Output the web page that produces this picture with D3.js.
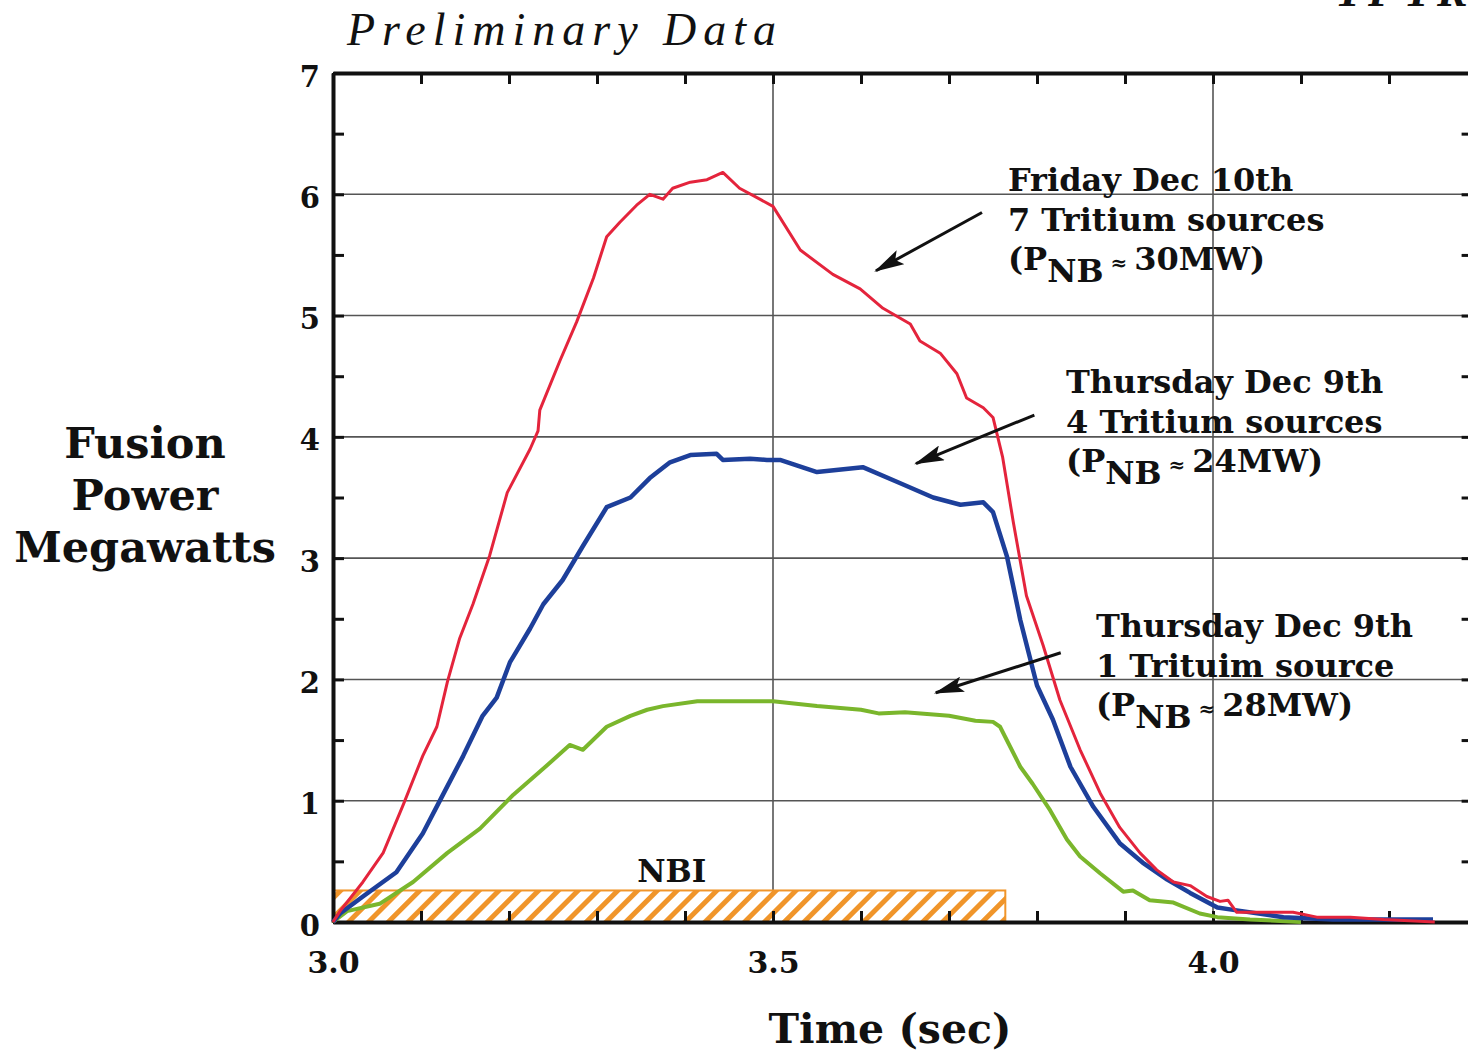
<!DOCTYPE html>
<html>
<head>
<meta charset="utf-8">
<script src="https://cdn.jsdelivr.net/npm/d3@7"></script>
<style>
  body { margin: 0; background: #fff; }
  svg { display: block; }
  .bold { font-family: "DejaVu Serif", "Liberation Serif", serif; font-weight: bold; fill: #111; }
</style>
</head>
<body>
<div id="chart"></div>
<script>
// fusion power traces (time in sec, power in MW)
var fridayDec10 = [
    { t: 3.000, p: 0.00 }, { t: 3.008, p: 0.09 }, { t: 3.034, p: 0.33 }, { t: 3.057, p: 0.57 },
    { t: 3.080, p: 0.97 }, { t: 3.102, p: 1.37 }, { t: 3.118, p: 1.61 }, { t: 3.130, p: 1.98 },
    { t: 3.144, p: 2.34 }, { t: 3.159, p: 2.62 }, { t: 3.178, p: 3.02 }, { t: 3.198, p: 3.54 },
    { t: 3.224, p: 3.90 }, { t: 3.233, p: 4.05 }, { t: 3.235, p: 4.22 }, { t: 3.258, p: 4.63 },
    { t: 3.277, p: 4.95 }, { t: 3.296, p: 5.31 }, { t: 3.311, p: 5.65 }, { t: 3.326, p: 5.77 },
    { t: 3.345, p: 5.91 }, { t: 3.360, p: 6.00 }, { t: 3.375, p: 5.96 }, { t: 3.386, p: 6.05 },
    { t: 3.406, p: 6.10 }, { t: 3.425, p: 6.12 }, { t: 3.443, p: 6.18 }, { t: 3.462, p: 6.05 },
    { t: 3.485, p: 5.96 }, { t: 3.500, p: 5.90 }, { t: 3.531, p: 5.54 }, { t: 3.568, p: 5.34 },
    { t: 3.599, p: 5.22 }, { t: 3.625, p: 5.06 }, { t: 3.656, p: 4.93 }, { t: 3.667, p: 4.79 },
    { t: 3.690, p: 4.69 }, { t: 3.709, p: 4.52 }, { t: 3.720, p: 4.32 }, { t: 3.739, p: 4.24 },
    { t: 3.750, p: 4.16 }, { t: 3.761, p: 3.83 }, { t: 3.773, p: 3.30 }, { t: 3.788, p: 2.69 },
    { t: 3.807, p: 2.28 }, { t: 3.826, p: 1.83 }, { t: 3.849, p: 1.42 }, { t: 3.872, p: 1.06 },
    { t: 3.894, p: 0.78 }, { t: 3.917, p: 0.57 }, { t: 3.936, p: 0.43 }, { t: 3.955, p: 0.33 },
    { t: 3.974, p: 0.30 }, { t: 3.993, p: 0.21 }, { t: 4.008, p: 0.17 }, { t: 4.017, p: 0.18 },
    { t: 4.027, p: 0.08 }, { t: 4.061, p: 0.08 }, { t: 4.091, p: 0.08 }, { t: 4.118, p: 0.04 },
    { t: 4.156, p: 0.04 }, { t: 4.194, p: 0.02 }, { t: 4.252, p: 0.00 }
]

var thursday4src = [
    { t: 3.000, p: 0.00 }, { t: 3.008, p: 0.07 }, { t: 3.034, p: 0.21 }, { t: 3.072, p: 0.41 },
    { t: 3.102, p: 0.73 }, { t: 3.125, p: 1.05 }, { t: 3.148, p: 1.37 }, { t: 3.170, p: 1.70 },
    { t: 3.186, p: 1.85 }, { t: 3.201, p: 2.14 }, { t: 3.224, p: 2.42 }, { t: 3.239, p: 2.62 },
    { t: 3.261, p: 2.82 }, { t: 3.284, p: 3.10 }, { t: 3.311, p: 3.42 }, { t: 3.338, p: 3.50 },
    { t: 3.360, p: 3.66 }, { t: 3.383, p: 3.79 }, { t: 3.406, p: 3.85 }, { t: 3.436, p: 3.86 },
    { t: 3.443, p: 3.81 }, { t: 3.474, p: 3.82 }, { t: 3.493, p: 3.81 }, { t: 3.508, p: 3.81 },
    { t: 3.550, p: 3.71 }, { t: 3.602, p: 3.75 }, { t: 3.644, p: 3.62 }, { t: 3.682, p: 3.50 },
    { t: 3.713, p: 3.44 }, { t: 3.739, p: 3.46 }, { t: 3.750, p: 3.38 }, { t: 3.766, p: 3.01 },
    { t: 3.781, p: 2.49 }, { t: 3.800, p: 1.95 }, { t: 3.818, p: 1.67 }, { t: 3.838, p: 1.28 },
    { t: 3.864, p: 0.95 }, { t: 3.894, p: 0.65 }, { t: 3.920, p: 0.49 }, { t: 3.948, p: 0.35 },
    { t: 3.974, p: 0.24 }, { t: 4.005, p: 0.12 }, { t: 4.023, p: 0.10 }, { t: 4.080, p: 0.04 },
    { t: 4.136, p: 0.02 }, { t: 4.250, p: 0.02 }
]

var thursday1src = [
    { t: 3.000, p: 0.00 }, { t: 3.016, p: 0.09 }, { t: 3.053, p: 0.15 }, { t: 3.091, p: 0.33 },
    { t: 3.130, p: 0.57 }, { t: 3.167, p: 0.77 }, { t: 3.205, p: 1.05 }, { t: 3.243, p: 1.29 },
    { t: 3.269, p: 1.46 }, { t: 3.284, p: 1.42 }, { t: 3.311, p: 1.61 }, { t: 3.338, p: 1.70 },
    { t: 3.357, p: 1.75 }, { t: 3.375, p: 1.78 }, { t: 3.414, p: 1.82 }, { t: 3.451, p: 1.82 },
    { t: 3.500, p: 1.82 }, { t: 3.550, p: 1.78 }, { t: 3.600, p: 1.75 }, { t: 3.620, p: 1.72 },
    { t: 3.650, p: 1.73 }, { t: 3.700, p: 1.70 }, { t: 3.730, p: 1.66 }, { t: 3.750, p: 1.65 },
    { t: 3.758, p: 1.61 }, { t: 3.781, p: 1.28 }, { t: 3.795, p: 1.14 }, { t: 3.815, p: 0.92 },
    { t: 3.834, p: 0.68 }, { t: 3.849, p: 0.54 }, { t: 3.872, p: 0.40 }, { t: 3.898, p: 0.25 },
    { t: 3.909, p: 0.26 }, { t: 3.928, p: 0.18 }, { t: 3.955, p: 0.16 }, { t: 3.985, p: 0.07 },
    { t: 4.005, p: 0.04 }, { t: 4.042, p: 0.02 }, { t: 4.100, p: 0.00 }
]

// neutral beam injection window
var nbi = { start: 3.0, end: 3.764, level: 0.26 }

var xTickLabels = [3.0, 3.5, 4.0]
var yTickLabels = [0, 1, 2, 3, 4, 5, 6, 7]
var xGrid = [3.5, 4.0]
var yGrid = [1, 2, 3, 4, 5, 6]
var yTitle = ["Fusion", "Power", "Megawatts"]

// annotation text + arrow (from -> to) in data units
var notes = [
    { lines: ["Friday Dec 10th", "7 Tritium sources", "30MW)"], t: 3.767, p: 6.03,
      from: [3.7375, 5.85], to: [3.617, 5.37] },
    { lines: ["Thursday Dec 9th", "4 Tritium sources", "24MW)"], t: 3.833, p: 4.36,
      from: [3.797, 4.18], to: [3.6625, 3.78] },
    { lines: ["Thursday Dec 9th", "1 Trituim source", "28MW)"], t: 3.867, p: 2.35,
      from: [3.827, 2.22], to: [3.685, 1.89] }
]

const W = 1468, H = 1052
const margin = { top: 73, left: 333, bottom: 130 }

const x = d3.scaleLinear()
    .domain([3.0, 4.295])
    .range([margin.left, margin.left + 1.295 * 880])
const y = d3.scaleLinear()
    .domain([0, 7])
    .range([H - margin.bottom, margin.top])

var svg = d3.select("#chart")
    .append("svg")
    .attr("width", W)
    .attr("height", H)

// hatch pattern for NBI bar
var defs = svg.append("defs")
var pat = defs.append("pattern")
    .attr("id", "hatch")
    .attr("patternUnits", "userSpaceOnUse")
    .attr("width", 14).attr("height", 14)
    .attr("patternTransform", "rotate(45)")
pat.append("rect").attr("width", 14).attr("height", 14).attr("fill", "#fff")
pat.append("rect").attr("width", 5).attr("height", 14).attr("fill", "#f0952a")

defs.append("marker")
    .attr("id", "head")
    .attr("markerUnits", "userSpaceOnUse")
    .attr("viewBox", "0 0 30 16")
    .attr("refX", 28).attr("refY", 8)
    .attr("markerWidth", 30).attr("markerHeight", 16)
    .attr("orient", "auto")
    .append("path")
    .attr("d", "M0,0 L30,8 L0,16 L6,8 Z")
    .attr("fill", "#111")

// gridlines
svg.append("g").selectAll("line")
    .data(yGrid).enter().append("line")
    .attr("x1", x(3.0)).attr("x2", x(4.295))
    .attr("y1", d => y(d)).attr("y2", d => y(d))
    .attr("stroke", "#555").attr("stroke-width", 1.6)
svg.append("g").selectAll("line")
    .data(xGrid).enter().append("line")
    .attr("x1", d => x(d)).attr("x2", d => x(d))
    .attr("y1", y(0)).attr("y2", y(7))
    .attr("stroke", "#555").attr("stroke-width", 1.6)

// NBI bar
svg.append("rect")
    .attr("x", x(nbi.start))
    .attr("y", y(nbi.level))
    .attr("width", x(nbi.end) - x(nbi.start))
    .attr("height", y(0) - y(nbi.level))
    .attr("fill", "url(#hatch)")
    .attr("stroke", "#f0952a")
    .attr("stroke-width", 2)

svg.append("text")
    .attr("class", "bold")
    .attr("x", x(3.385)).attr("y", y(0.33))
    .attr("text-anchor", "middle")
    .attr("font-size", 31)
    .text("NBI")

// axes (ticks point inward)
var xMinor = d3.range(30, 43).map(d => d / 10)
var yMinor = d3.range(0, 15).map(d => d / 2)

var fmtX = d => xTickLabels.some(v => Math.abs(v - d) < 1e-6) ? d3.format(".1f")(d) : ""
var fmtY = d => yTickLabels.indexOf(d) >= 0 ? d : ""

var gx = svg.append("g")
    .attr("transform", `translate(0,${y(0)})`)
    .call(d3.axisBottom(x).tickValues(xMinor).tickSizeInner(-11).tickSizeOuter(0).tickPadding(30).tickFormat(fmtX))
var gxTop = svg.append("g")
    .attr("transform", `translate(0,${y(7)})`)
    .call(d3.axisTop(x).tickValues(xMinor).tickSizeInner(-11).tickSizeOuter(0).tickFormat(""))
var gy = svg.append("g")
    .attr("transform", `translate(${x(3.0)},0)`)
    .call(d3.axisLeft(y).tickValues(yMinor).tickSizeInner(-11).tickSizeOuter(0).tickPadding(13).tickFormat(fmtY))
var gyRight = svg.append("g")
    .attr("transform", `translate(${x(4.295)},0)`)
    .call(d3.axisRight(y).tickValues(yMinor).tickSizeInner(-11).tickSizeOuter(0).tickFormat(""))

svg.selectAll(".domain").attr("stroke", "#111").attr("stroke-width", 4)
svg.selectAll(".tick line").attr("stroke", "#111").attr("stroke-width", 3)
gx.selectAll("text").attr("class", "bold").attr("font-size", 30)
gy.selectAll("text").attr("class", "bold").attr("font-size", 29).attr("dy", "0.45em")

// traces
const line = d3.line()
    .x(d => x(d.t))
    .y(d => y(d.p))

svg.append("path")
    .datum(thursday1src)
    .attr("fill", "none")
    .attr("stroke", "#7ab62c")
    .attr("stroke-width", 4)
    .attr("stroke-linejoin", "round")
    .attr("d", line)

svg.append("path")
    .datum(thursday4src)
    .attr("fill", "none")
    .attr("stroke", "#1d3f9a")
    .attr("stroke-width", 4.5)
    .attr("stroke-linejoin", "round")
    .attr("d", line)

svg.append("path")
    .datum(fridayDec10)
    .attr("fill", "none")
    .attr("stroke", "#e4243c")
    .attr("stroke-width", 3)
    .attr("stroke-linejoin", "round")
    .attr("d", line)

// annotations
notes.forEach(function (n) {
    svg.append("line")
        .attr("x1", x(n.from[0])).attr("y1", y(n.from[1]))
        .attr("x2", x(n.to[0])).attr("y2", y(n.to[1]))
        .attr("stroke", "#111").attr("stroke-width", 3)
        .attr("marker-end", "url(#head)")

    var txt = svg.append("text")
        .attr("class", "bold")
        .attr("font-size", 32)
        .attr("x", x(n.t)).attr("y", y(n.p))
    txt.append("tspan").attr("x", x(n.t)).text(n.lines[0])
    txt.append("tspan").attr("x", x(n.t)).attr("dy", 40).text(n.lines[1])
    txt.append("tspan").attr("x", x(n.t)).attr("dy", 39).text("(P")
    txt.append("tspan").attr("dy", 12).text("NB")
    txt.append("tspan").attr("dy", -12).attr("font-size", 20).text(" \u2248 ")
    txt.append("tspan").text(n.lines[2])
})

// titles
svg.append("text")
    .attr("x", 347).attr("y", 45)
    .attr("font-family", "Liberation Serif, serif")
    .attr("font-style", "italic")
    .attr("font-size", 46)
    .attr("letter-spacing", 7)
    .attr("fill", "#111")
    .text("Preliminary Data")

// page header, cut off at the top edge as in the source figure
svg.append("text")
    .attr("x", 1335).attr("y", 6)
    .attr("font-family", "Liberation Serif, serif")
    .attr("font-style", "italic")
    .attr("font-weight", "bold")
    .attr("font-size", 46)
    .attr("letter-spacing", 5)
    .attr("fill", "#111")
    .text("TFTR")

svg.append("text")
    .attr("class", "bold")
    .attr("x", 890).attr("y", 1043)
    .attr("text-anchor", "middle")
    .attr("font-size", 41)
    .text("Time (sec)")

var yt = svg.append("text")
    .attr("class", "bold")
    .attr("text-anchor", "middle")
    .attr("font-size", 43);
yTitle.forEach(function (s, i) {
    yt.append("tspan").attr("x", 145).attr("y", 458 + i * 52).text(s)
})
</script>
</body>
</html>
